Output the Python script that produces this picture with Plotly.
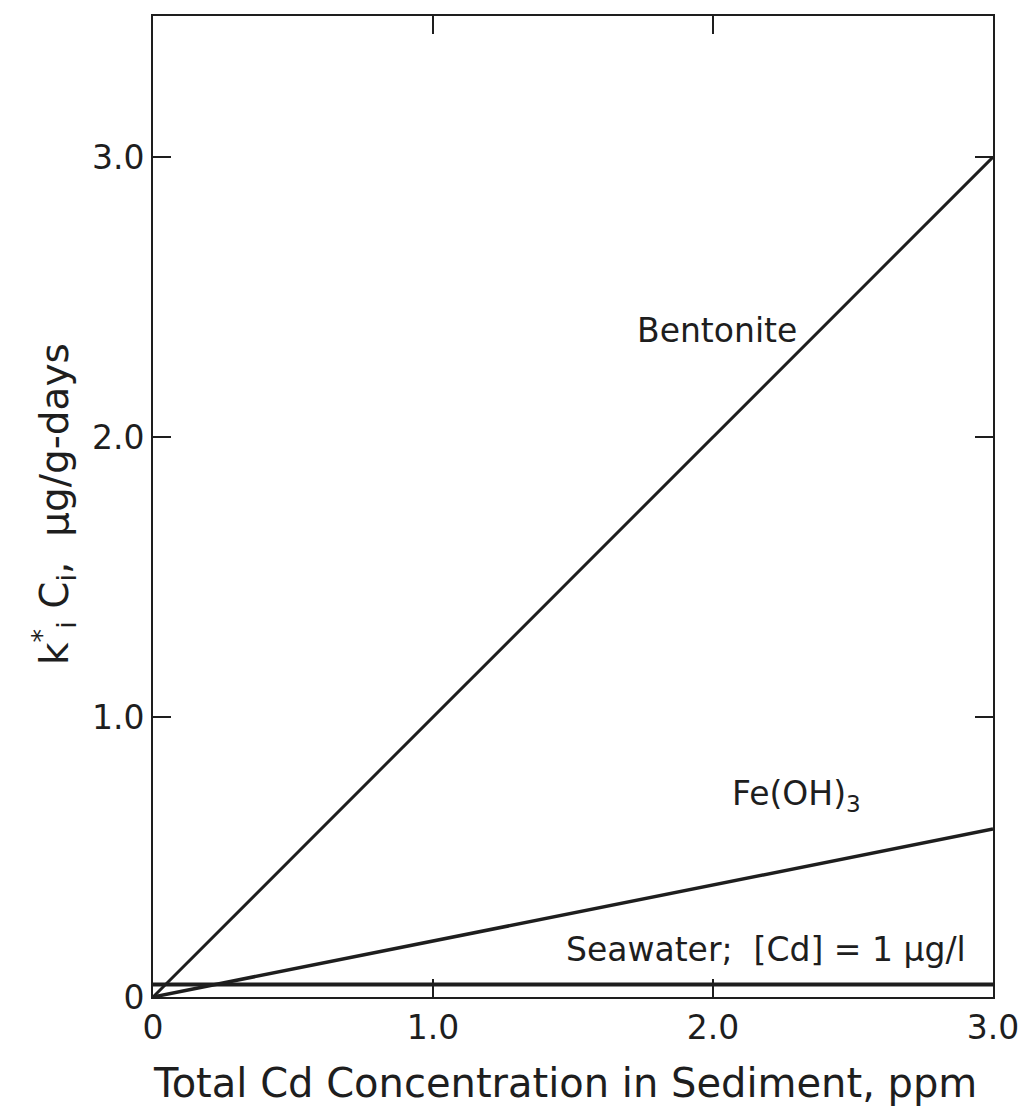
import plotly.graph_objects as go

# Total Cd concentration in sediment (ppm) at the ends of each straight line
conc_ppm = [0.0, 3.0]

# k*_i C_i (ug/g-days) for each sorbent
bentonite = [0.0, 3.0]
fe_oh3 = [0.0, 0.6]
seawater = [0.045, 0.045]

x_tick_vals = [0.0, 1.0, 2.0, 3.0]
x_tick_text = ["0", "1.0", "2.0", "3.0"]
y_tick_vals = [0.0, 1.0, 2.0, 3.0]
y_tick_text = ["0", "1.0", "2.0", "3.0"]

INK = "#1e1e1e"
FONT = "DejaVu Sans"

fig = go.Figure()

fig.add_trace(go.Scatter(x=conc_ppm, y=bentonite, mode="lines",
                         line=dict(color=INK, width=3), name="Bentonite"))
fig.add_trace(go.Scatter(x=conc_ppm, y=fe_oh3, mode="lines",
                         line=dict(color=INK, width=3.5), name="Fe(OH)3"))
fig.add_trace(go.Scatter(x=conc_ppm, y=seawater, mode="lines",
                         line=dict(color=INK, width=4), name="Seawater"))

axis_common = dict(
    showgrid=False, zeroline=False, automargin=False,
    showline=True, linecolor=INK, linewidth=2, mirror="ticks",
    ticks="inside", ticklen=18, tickwidth=2, tickcolor=INK,
    tickfont=dict(family=FONT, size=33, color=INK),
    tickmode="array",
)

fig.update_xaxes(range=[0, 3.0], tickvals=x_tick_vals, ticktext=x_tick_text,
                 **axis_common)
fig.update_yaxes(range=[0, 3.504], tickvals=y_tick_vals, ticktext=y_tick_text,
                 **axis_common)

label_font = dict(family=FONT, size=33, color=INK)

fig.add_annotation(x=1.72, y=2.38, text="Bentonite", showarrow=False,
                   xanchor="left", yanchor="middle", font=label_font)
fig.add_annotation(x=2.06, y=0.72, text="Fe(OH)<sub>3</sub>", showarrow=False,
                   xanchor="left", yanchor="middle", font=label_font)
fig.add_annotation(x=2.91, y=0.17, text="Seawater;  [Cd] = 1 \u03bcg/l",
                   showarrow=False, xanchor="right", yanchor="middle",
                   font=label_font)

# Axis titles
fig.add_annotation(xref="paper", yref="paper", x=0.49, y=-0.088,
                   text="Total Cd Concentration in Sediment, ppm",
                   showarrow=False, xanchor="center", yanchor="middle",
                   font=dict(family=FONT, size=40, color=INK))
fig.add_annotation(xref="paper", yref="y", x=-0.117, y=1.76,
                   text="k<sup>*</sup><sub>i</sub> C<sub>i</sub>,  \u03bcg/g-days",
                   textangle=-90, showarrow=False,
                   xanchor="center", yanchor="middle",
                   font=dict(family=FONT, size=39, color=INK))

fig.update_layout(
    width=1020, height=1109,
    margin=dict(l=153, r=27, t=16, b=112),
    paper_bgcolor="white", plot_bgcolor="white",
    showlegend=False,
)

fig.write_html("out.html")
